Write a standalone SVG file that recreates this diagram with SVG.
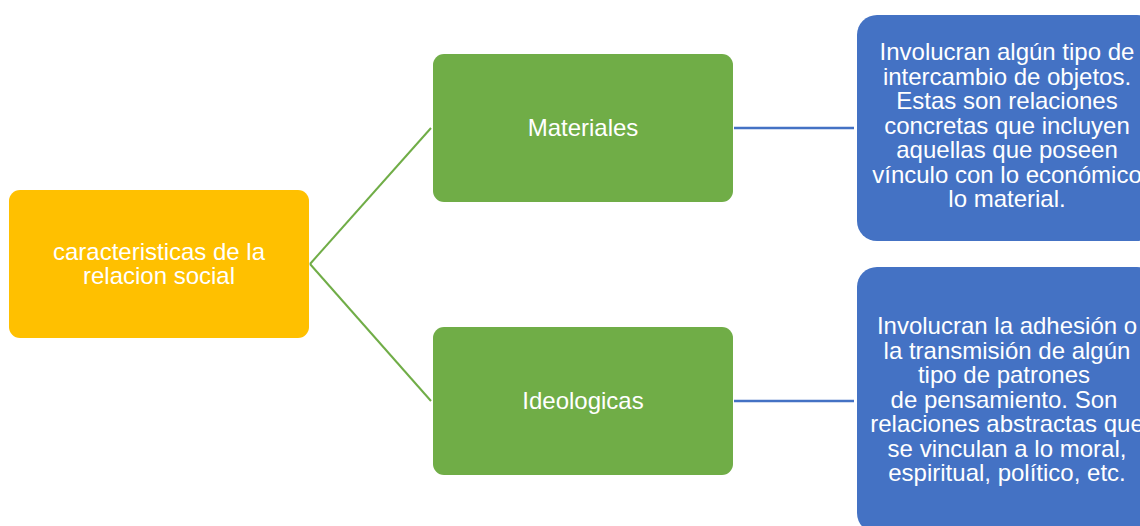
<svg xmlns="http://www.w3.org/2000/svg" width="1140" height="526" viewBox="0 0 1140 526">
<style>
text{font-family:"Liberation Sans",Arial,sans-serif;font-size:24px;fill:#ffffff;text-anchor:middle}
.g{stroke:#70AD47;stroke-width:2;fill:none}
.b{stroke:#4472C4;stroke-width:2.5;fill:none}
</style>
<rect width="1140" height="526" fill="#ffffff"/>
<g id="connectors">
<path class="g" d="M310,264 L431,128"/>
<path class="g" d="M310,264 L431,401"/>
<path class="b" d="M734,128 L854,128"/>
<path class="b" d="M734,401 L854,401"/>
</g>
<g id="root">
<rect x="9" y="190" width="300" height="148" rx="11" fill="#FFC000"/>
<text x="159" y="260">caracteristicas de la</text>
<text x="159" y="284">relacion social</text>
</g>
<g id="materiales">
<rect x="433" y="54" width="300" height="148" rx="11" fill="#70AD47"/>
<text x="583" y="136">Materiales</text>
</g>
<g id="ideologicas">
<rect x="433" y="327" width="300" height="148" rx="11" fill="#70AD47"/>
<text x="583" y="409">Ideologicas</text>
</g>
<g id="desc-materiales">
<rect x="857" y="15" width="300" height="226" rx="20" fill="#4472C4"/>
<text x="1007" y="60">Involucran algún tipo de</text>
<text x="1007" y="84.5">intercambio de objetos.</text>
<text x="1007" y="109">Estas son relaciones</text>
<text x="1007" y="133.5">concretas que incluyen</text>
<text x="1007" y="158">aquellas que poseen</text>
<text x="1007" y="182.5">vínculo con lo económico</text>
<text x="1007" y="207">lo material.</text>
</g>
<g id="desc-ideologicas">
<rect x="857" y="267" width="300" height="266" rx="20" fill="#4472C4"/>
<text x="1007" y="334">Involucran la adhesión o</text>
<text x="1007" y="358.5">la transmisión de algún</text>
<text x="1004" y="383">tipo de patrones</text>
<text x="1004" y="407.5">de pensamiento. Son</text>
<text x="1007" y="432">relaciones abstractas que</text>
<text x="1007" y="456.5">se vinculan a lo moral,</text>
<text x="1007" y="481">espiritual, político, etc.</text>
</g>
</svg>
